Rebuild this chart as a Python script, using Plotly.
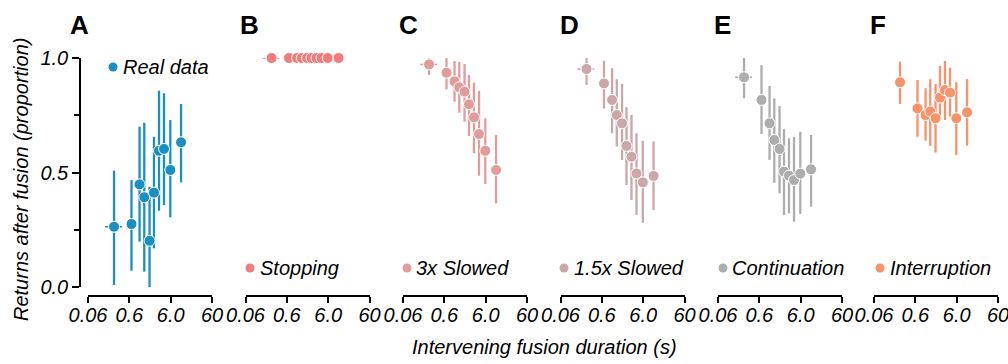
import math
import plotly.graph_objects as go

W, H = 1008, 364

# ---- data ----
durations = [0.256, 0.677, 1.06, 1.38, 1.85, 2.37, 3.13, 4.14, 5.88, 10.7]
first_dur_lo = 0.155
first_dur_hi = 0.40

x_tickvals = [0.06, 0.6, 6.0, 60]
x_ticktext = ["0.06", "0.6", "6.0", "60"]
y_tickvals = [0.0, 0.5, 1.0]
y_ticktext = ["0.0", "0.5", "1.0"]
y_minorvals = [0.25, 0.75]

panel_letters = ["A", "B", "C", "D", "E", "F"]
labels = ["Real data", "Stopping", "3x Slowed", "1.5x Slowed", "Continuation", "Interruption"]
colors = ["#1a8fc1", "#f27b7b", "#e39c9c", "#cba7aa", "#adadad", "#f7926b"]

real_y = [0.263, 0.275, 0.448, 0.392, 0.202, 0.412, 0.595, 0.603, 0.511, 0.632]
real_lo = [0.009, 0.071, 0.198, 0.067, -0.034, 0.169, 0.333, 0.358, 0.304, 0.457]
real_hi = [0.508, 0.467, 0.700, 0.717, 0.438, 0.656, 0.857, 0.846, 0.729, 0.799]

stop_y = [1.0, 1.0, 1.0, 1.0, 1.0, 1.0, 1.0, 1.0, 1.0, 1.0]
stop_lo = [1.0, 1.0, 1.0, 1.0, 1.0, 1.0, 1.0, 1.0, 1.0, 1.0]
stop_hi = [1.0, 1.0, 1.0, 1.0, 1.0, 1.0, 1.0, 1.0, 1.0, 1.0]

slow3_y = [0.972, 0.936, 0.898, 0.872, 0.853, 0.798, 0.741, 0.668, 0.595, 0.511]
slow3_lo = [0.926, 0.863, 0.809, 0.761, 0.722, 0.659, 0.584, 0.486, 0.450, 0.365]
slow3_hi = [1.016, 1.009, 0.987, 0.983, 0.974, 0.926, 0.892, 0.857, 0.737, 0.664]

slow15_y = [0.952, 0.889, 0.817, 0.751, 0.715, 0.616, 0.569, 0.496, 0.457, 0.485]
slow15_lo = [0.882, 0.780, 0.671, 0.613, 0.555, 0.445, 0.380, 0.314, 0.281, 0.336]
slow15_hi = [1.013, 0.988, 0.955, 0.907, 0.886, 0.785, 0.751, 0.671, 0.639, 0.635]

cont_y = [0.916, 0.817, 0.715, 0.642, 0.603, 0.504, 0.486, 0.467, 0.495, 0.514]
cont_lo = [0.824, 0.668, 0.555, 0.455, 0.409, 0.314, 0.322, 0.285, 0.319, 0.351]
cont_hi = [1.009, 0.969, 0.878, 0.824, 0.790, 0.690, 0.649, 0.656, 0.678, 0.664]

intr_y = [0.894, 0.780, 0.751, 0.766, 0.737, 0.827, 0.860, 0.849, 0.737, 0.763]
intr_lo = [0.799, 0.656, 0.639, 0.616, 0.587, 0.737, 0.729, 0.744, 0.576, 0.617]
intr_hi = [0.984, 0.904, 0.868, 0.907, 0.886, 0.965, 0.987, 0.958, 0.894, 0.908]

series = [
    (real_y, real_lo, real_hi, True),
    (stop_y, stop_lo, stop_hi, True),
    (slow3_y, slow3_lo, slow3_hi, True),
    (slow15_y, slow15_lo, slow15_hi, True),
    (cont_y, cont_lo, cont_hi, True),
    (intr_y, intr_lo, intr_hi, False),
]

# ---- layout geometry (pixels) ----
x_starts = [88, 245.5, 403, 560.5, 718, 874]
x_width = 124
y_top, y_bot = 58, 287
x_axis_y = 296
y_axis_x = 80

def px(x):
    return x / W

def py(y):
    return 1 - y / H

FONT = "Liberation Sans"
tick_font = dict(family=FONT, size=20, color="black", style="italic")

fig = go.Figure()

for i, ((yv, lo, hi, has_xerr), col) in enumerate(zip(series, colors)):
    xa = "x" if i == 0 else f"x{i+1}"
    ex_plus = [0.0] * len(durations)
    ex_minus = [0.0] * len(durations)
    if has_xerr:
        ex_plus[0] = first_dur_hi - durations[0]
        ex_minus[0] = durations[0] - first_dur_lo
    fig.add_trace(go.Scatter(
        x=durations, y=yv, xaxis=xa, yaxis="y", mode="markers",
        marker=dict(size=11, color=col, line=dict(color="white", width=1)),
        error_y=dict(type="data", symmetric=False,
                     array=[h - v for h, v in zip(hi, yv)],
                     arrayminus=[v - l for v, l in zip(yv, lo)],
                     color=col, thickness=2.3, width=0),
        error_x=dict(type="data", symmetric=False, array=ex_plus, arrayminus=ex_minus,
                     color=col, thickness=1.5, width=0),
        cliponaxis=False, showlegend=False, hoverinfo="skip",
    ))

layout = dict(
    width=W, height=H, margin=dict(l=0, r=0, t=0, b=0, autoexpand=False),
    paper_bgcolor="white", plot_bgcolor="white", showlegend=False,
    template="none",
)

for i, s in enumerate(x_starts):
    key = "xaxis" if i == 0 else f"xaxis{i+1}"
    layout[key] = dict(
        domain=[px(s), px(s + x_width)], type="log",
        range=[math.log10(0.06), math.log10(60)],
        anchor="free", position=py(x_axis_y), automargin=False,
        showline=True, linecolor="black", linewidth=1.5,
        ticks="outside", ticklen=6, tickwidth=1.5, tickcolor="black",
        tickvals=x_tickvals, ticktext=x_ticktext, tickfont=tick_font,
        ticklabelstandoff=-5, ticklabeloverflow="allow",
        showgrid=False, zeroline=False, fixedrange=True,
    )

layout["yaxis"] = dict(
    domain=[py(y_bot), py(y_top)], range=[0, 1],
    anchor="free", position=px(y_axis_x), automargin=False,
    showline=True, linecolor="black", linewidth=1.5,
    ticks="outside", ticklen=7, tickwidth=1.5, tickcolor="black",
    tickvals=y_tickvals, ticktext=y_ticktext, tickfont=tick_font,
    minor=dict(tickvals=y_minorvals, ticks="outside", ticklen=5, tickwidth=1.5, tickcolor="black"),
    showgrid=False, zeroline=False, fixedrange=True,
)

fig.update_layout(**layout)

annotations = []
shapes = []

# panel letters
letter_x = [68, 238, 397, 558, 712, 868]
for L, lx in zip(panel_letters, letter_x):
    annotations.append(dict(text=L, x=px(lx), y=py(24.7), xref="paper", yref="paper",
                            xanchor="left", yanchor="middle", showarrow=False,
                            font=dict(family=FONT, size=26, color="black", weight="bold")))

# legends
leg_dot_x = [113, 250, 407, 564, 723, 880]
leg_text_x = [121, 258, 414, 572, 730, 888]
leg_y = [67, 268, 268, 268, 268, 268]
for lab, col, dx, tx, ly in zip(labels, colors, leg_dot_x, leg_text_x, leg_y):
    shapes.append(dict(type="circle", xref="paper", yref="paper",
                       xsizemode="pixel", ysizemode="pixel",
                       xanchor=px(dx), yanchor=py(ly),
                       x0=-4.5, x1=4.5, y0=-4.5, y1=4.5,
                       fillcolor=col, line=dict(width=0)))
    annotations.append(dict(text=lab, x=px(tx), y=py(ly), xref="paper", yref="paper",
                            xanchor="left", yanchor="middle", showarrow=False,
                            font=dict(family=FONT, size=20, color="black", style="italic")))

# axis titles
annotations.append(dict(text="Returns after fusion (proportion)", x=px(21), y=py(180),
                        xref="paper", yref="paper", xanchor="center", yanchor="middle",
                        textangle=-90, showarrow=False,
                        font=dict(family=FONT, size=20, color="black", style="italic")))
annotations.append(dict(text="Intervening fusion duration (s)", x=px(544), y=py(347),
                        xref="paper", yref="paper", xanchor="center", yanchor="middle",
                        showarrow=False,
                        font=dict(family=FONT, size=20, color="black", style="italic")))

fig.update_layout(annotations=annotations, shapes=shapes)

fig.write_html("out.html")
